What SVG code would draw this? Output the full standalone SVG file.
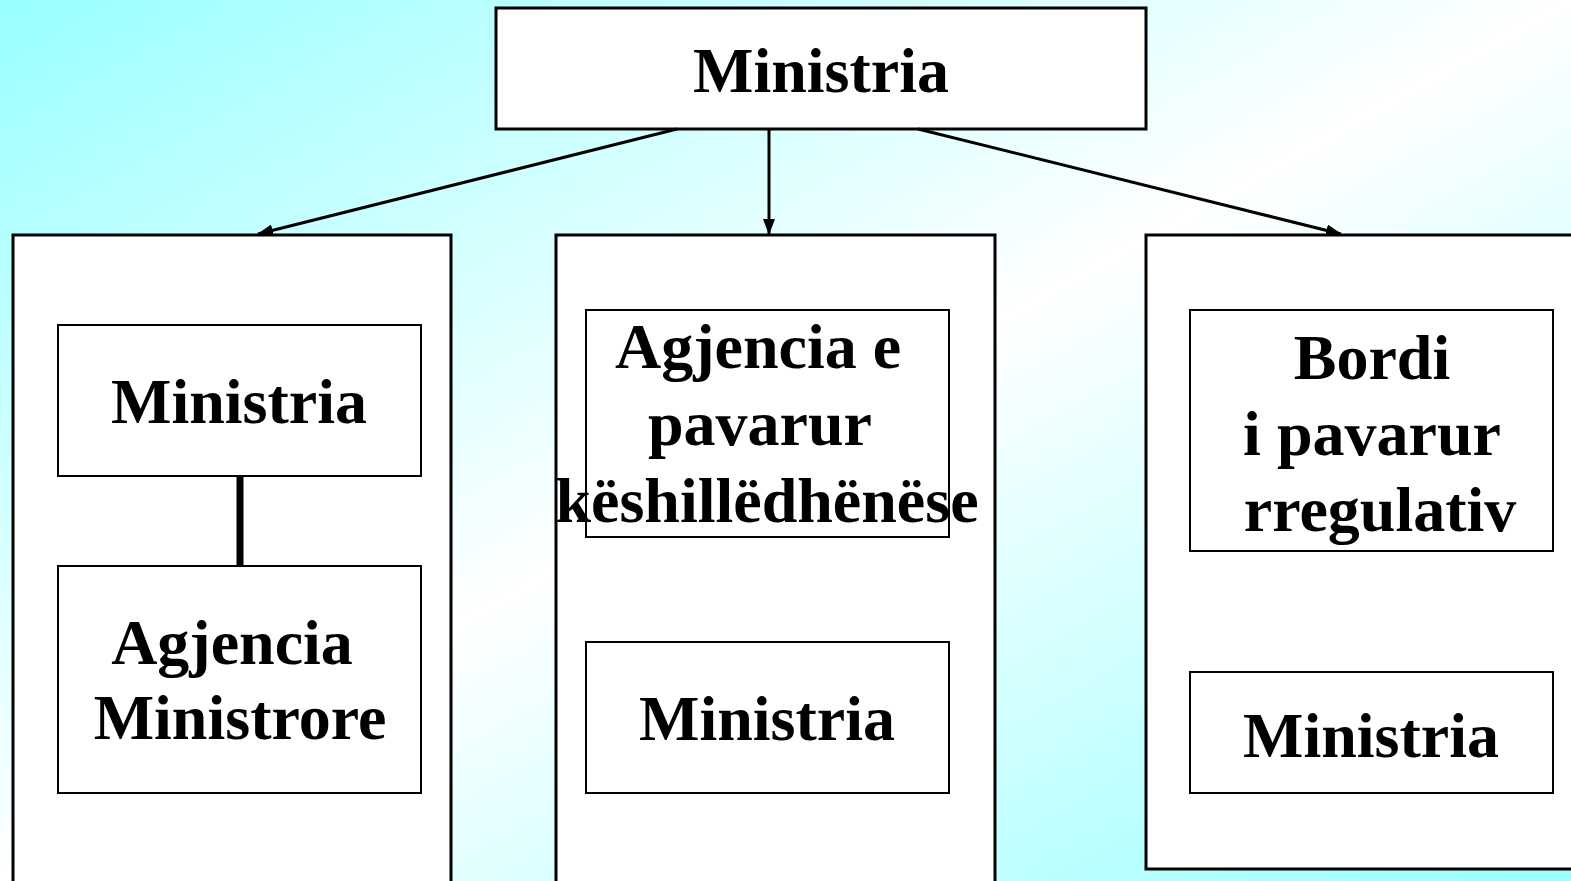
<svg xmlns="http://www.w3.org/2000/svg" width="1571" height="881" viewBox="0 0 1571 881">
  <defs>
    <linearGradient id="bg" x1="0" y1="0" x2="1" y2="1">
      <stop offset="0" stop-color="#99FFFF"/>
      <stop offset="0.5" stop-color="#FFFFFF"/>
      <stop offset="1" stop-color="#99FFFF"/>
    </linearGradient>
    <marker id="arr" markerUnits="userSpaceOnUse" markerWidth="16" markerHeight="12" refX="15" refY="6" orient="auto" viewBox="0 0 16 12">
      <path d="M0,0 L16,6 L0,12 Z" fill="#000"/>
    </marker>
  </defs>
  <style>
    .outer { fill: #FFFFFF; stroke: #000; stroke-width: 3; }
    .inner { fill: #FFFFFF; stroke: #000; stroke-width: 2; }
    .conn { stroke: #000; stroke-width: 3; fill: none; }
    .t { font-family: "Liberation Serif", "Times New Roman", serif; font-weight: bold; font-size: 64px; fill: #000; text-anchor: middle; }
  </style>
  <rect x="0" y="0" width="1571" height="881" fill="url(#bg)"/>

  <g id="top">
    <rect class="outer" x="496" y="8" width="650" height="121"/>
    <text class="t" x="821" y="92">Ministria</text>
  </g>

  <g id="col-left">
    <rect class="outer" x="13" y="235" width="438" height="660"/>
  </g>
  <g id="col-middle">
    <rect class="outer" x="556" y="235" width="439" height="660"/>
  </g>
  <g id="col-right">
    <rect class="outer" x="1146" y="235" width="440" height="634"/>
  </g>

  <g id="left-ministria">
    <rect class="inner" x="58" y="325" width="363" height="151"/>
    <text class="t" x="239" y="423">Ministria</text>
  </g>
  <g id="left-agjencia">
    <rect class="inner" x="58" y="566" width="363" height="227"/>
    <text class="t" x="232" y="664">Agjencia</text>
    <text class="t" x="240" y="739">Ministrore</text>
  </g>

  <g id="mid-agjencia">
    <rect class="inner" x="586" y="310" width="363" height="227"/>
    <text class="t" x="758" y="368">Agjencia e</text>
    <text class="t" x="760" y="445">pavarur</text>
    <text class="t" x="767" y="522">këshillëdhënëse</text>
  </g>
  <g id="mid-ministria">
    <rect class="inner" x="586" y="642" width="363" height="151"/>
    <text class="t" x="767" y="740">Ministria</text>
  </g>

  <g id="right-bordi">
    <rect class="inner" x="1190" y="310" width="363" height="241"/>
    <text class="t" x="1372" y="379">Bordi</text>
    <text class="t" x="1372" y="455">i pavarur</text>
    <text class="t" x="1380" y="531">rregulativ</text>
  </g>
  <g id="right-ministria">
    <rect class="inner" x="1190" y="672" width="363" height="121"/>
    <text class="t" x="1371" y="757">Ministria</text>
  </g>

  <g id="connectors">
    <line class="conn" x1="677" y1="129" x2="258" y2="234" marker-end="url(#arr)"/>
    <line class="conn" x1="769" y1="129" x2="769" y2="234" marker-end="url(#arr)"/>
    <line class="conn" x1="918" y1="129" x2="1341" y2="234" marker-end="url(#arr)"/>
    <line x1="240" y1="476" x2="240" y2="566" stroke="#000" stroke-width="7"/>
  </g>
</svg>
